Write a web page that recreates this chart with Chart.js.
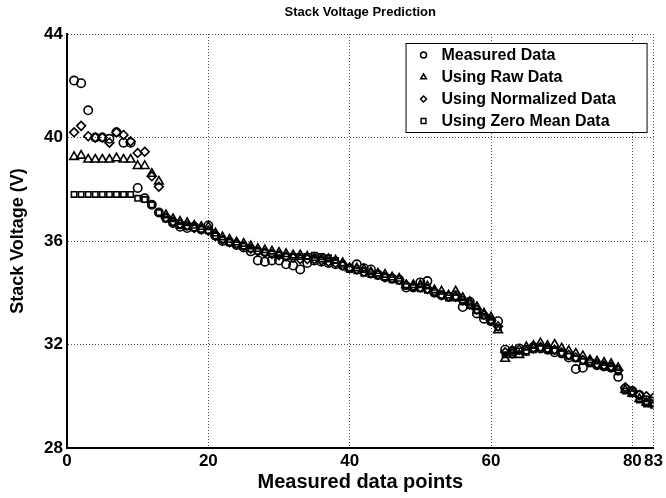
<!DOCTYPE html>
<html>
<head>
<meta charset="utf-8">
<title>Stack Voltage Prediction</title>
<script src="https://cdn.jsdelivr.net/npm/chart.js@4/dist/chart.umd.min.js"></script>
<style>
    body { margin: 0; background: #fff; }
    #wrap { width: 666px; height: 498px; position: relative; }
</style>
</head>
<body>
<div id="wrap"><canvas id="chart"></canvas></div>
<script>
// Measured data point index (x axis)
const points = [1, 2, 3, 4, 5, 6, 7, 8, 9, 10, 11, 12, 13, 14, 15, 16, 17, 18, 19, 20,
    21, 22, 23, 24, 25, 26, 27, 28, 29, 30, 31, 32, 33, 34, 35, 36, 37, 38, 39, 40,
    41, 42, 43, 44, 45, 46, 47, 48, 49, 50, 51, 52, 53, 54, 55, 56, 57, 58, 59, 60,
    61, 62, 63, 64, 65, 66, 67, 68, 69, 70, 71, 72, 73, 74, 75, 76, 77, 78, 79, 80,
    81, 82, 83];

// Stack voltage (V) per series
const measured = [42.2, 42.1, 41.05, 40.0, 40.0, 39.95, 40.2, 39.8, 39.8, 38.05,
    37.65, 37.4, 37.1, 36.9, 36.7, 36.55, 36.5, 36.55, 36.45, 36.6,
    36.2, 36.0, 35.95, 35.85, 35.75, 35.6, 35.25, 35.2, 35.25, 35.25,
    35.1, 35.05, 34.9, 35.15, 35.25, 35.2, 35.15, 35.1, 35.05, 34.95,
    35.1, 34.95, 34.9, 34.7, 34.6, 34.55, 34.5, 34.2, 34.2, 34.4,
    34.45, 34.0, 33.9, 33.85, 33.9, 33.45, 33.65, 33.2, 33.0, 32.9,
    32.9, 31.8, 31.75, 31.85, 31.8, 31.9, 31.85, 31.8, 31.7, 31.65,
    31.5, 31.05, 31.1, 31.3, 31.2, 31.15, 31.1, 30.75, 30.3, 30.2,
    30.05, 29.85, 29.8];

const rawData = [39.25, 39.3, 39.15, 39.15, 39.15, 39.15, 39.2, 39.15, 39.15, 38.9,
    38.9, 38.6, 38.3, 37.0, 36.85, 36.75, 36.7, 36.6, 36.55, 36.55,
    36.3, 36.15, 36.05, 35.95, 35.9, 35.8, 35.7, 35.65, 35.6, 35.55,
    35.5, 35.45, 35.45, 35.4, 35.35, 35.3, 35.3, 35.25, 35.15, 34.95,
    34.95, 34.9, 34.8, 34.75, 34.7, 34.6, 34.55, 34.3, 34.3, 34.3,
    34.25, 34.1, 34.05, 33.9, 34.05, 33.8, 33.65, 33.45, 33.2, 33.05,
    32.55, 31.45, 31.75, 31.6, 31.9, 31.95, 32.05, 31.95, 32.0, 31.85,
    31.75, 31.65, 31.55, 31.4, 31.35, 31.3, 31.25, 31.1, 30.25, 30.1,
    29.9, 29.75, 29.7];

const normalized = [40.2, 40.45, 40.05, 40.0, 40.0, 39.8, 40.2, 40.1, 39.85, 39.4,
    39.45, 38.5, 38.1, 36.9, 36.75, 36.65, 36.6, 36.5, 36.45, 36.4,
    36.2, 36.05, 35.95, 35.9, 35.8, 35.7, 35.6, 35.55, 35.5, 35.45,
    35.4, 35.35, 35.3, 35.3, 35.3, 35.25, 35.2, 35.15, 35.05, 34.95,
    34.9, 34.8, 34.75, 34.7, 34.6, 34.55, 34.5, 34.3, 34.25, 34.2,
    34.15, 34.05, 33.9, 33.85, 33.85, 33.7, 33.55, 33.35, 33.15, 32.95,
    32.7, 31.7, 31.65, 31.8, 31.75, 31.85, 31.9, 31.85, 31.8, 31.7,
    31.6, 31.5, 31.4, 31.35, 31.25, 31.2, 31.15, 31.0, 30.35, 30.2,
    30.05, 30.0, 29.95];

const zeroMean = [37.8, 37.8, 37.8, 37.8, 37.8, 37.8, 37.8, 37.8, 37.8, 37.65,
    37.6, 37.4, 37.1, 36.85, 36.7, 36.6, 36.55, 36.5, 36.45, 36.4,
    36.2, 36.05, 35.95, 35.85, 35.8, 35.7, 35.6, 35.55, 35.5, 35.45,
    35.4, 35.4, 35.4, 35.4, 35.45, 35.4, 35.35, 35.25, 35.1, 34.9,
    34.85, 34.75, 34.7, 34.65, 34.6, 34.5, 34.45, 34.25, 34.2, 34.15,
    34.1, 34.0, 33.9, 33.8, 33.8, 33.65, 33.5, 33.3, 33.1, 32.9,
    32.65, 31.6, 31.6, 31.75, 31.7, 31.8, 31.85, 31.8, 31.75, 31.65,
    31.55, 31.45, 31.35, 31.3, 31.2, 31.15, 31.1, 30.95, 30.2, 30.1,
    29.85, 29.7, 29.65];

const seriesNames = ['Measured Data', 'Using Raw Data', 'Using Normalized Data', 'Using Zero Mean Data'];
const xTicks = [0, 20, 40, 60, 80, 83];
const yTicks = [28, 32, 36, 40, 44];

const FONT = "'Liberation Sans', Arial, Helvetica, sans-serif";

// marker style per series
const markers = [
    { style: 'circle', radius: 4.2 },
    { style: 'triangle', radius: 5 },
    { style: 'rectRot', radius: 4.4 },
    { style: 'rect', radius: 3.8 }
];

function toPoints(values) {
    return values.map((v, i) => ({ x: points[i], y: v }));
}

const datasets = [measured, rawData, normalized, zeroMean].map((vals, i) => ({
    label: seriesNames[i],
    data: toPoints(vals),
    showLine: false,
    pointStyle: markers[i].style,
    pointRadius: markers[i].radius,
    pointBorderWidth: 1.6,
    borderColor: '#000',
    backgroundColor: 'rgba(0,0,0,0)'
}));

// small marker drawing for the boxed legend
function drawMarker(ctx, style, x, y, r) {
    ctx.beginPath();
    if (style === 'circle') {
        ctx.arc(x, y, r, 0, Math.PI * 2);
    } else if (style === 'triangle') {
        ctx.moveTo(x, y - r);
        ctx.lineTo(x + r * 0.95, y + r * 0.6);
        ctx.lineTo(x - r * 0.95, y + r * 0.6);
        ctx.closePath();
    } else if (style === 'rectRot') {
        ctx.moveTo(x, y - r);
        ctx.lineTo(x + r, y);
        ctx.lineTo(x, y + r);
        ctx.lineTo(x - r, y);
        ctx.closePath();
    } else {
        ctx.rect(x - r * 0.8, y - r * 0.8, r * 1.6, r * 1.6);
    }
    ctx.stroke();
}

// title over the plot area + legend box in the upper right corner
const decorPlugin = {
    id: 'decor',
    afterDraw(chart) {
        const ctx = chart.ctx;
        const area = chart.chartArea;
        ctx.save();

        ctx.fillStyle = '#000';
        ctx.font = 'bold 13px ' + FONT;
        ctx.textAlign = 'center';
        ctx.textBaseline = 'middle';
        ctx.fillText('Stack Voltage Prediction', (area.left + area.right) / 2, 12);

        const boxRight = area.right - 7;
        const boxLeft = boxRight - 241;
        const boxTop = area.top + 9;
        const boxH = 89;
        ctx.fillStyle = '#fff';
        ctx.fillRect(boxLeft, boxTop, boxRight - boxLeft, boxH);
        ctx.strokeStyle = '#000';
        ctx.lineWidth = 1;
        ctx.strokeRect(boxLeft + 0.5, boxTop + 0.5, boxRight - boxLeft, boxH);

        ctx.font = 'bold 16px ' + FONT;
        ctx.textAlign = 'left';
        seriesNames.forEach((name, i) => {
            const y = boxTop + 12 + i * 22;
            ctx.strokeStyle = '#000';
            ctx.lineWidth = 1.5;
            drawMarker(ctx, markers[i].style, boxLeft + 18, y, 3);
            ctx.fillStyle = '#000';
            ctx.fillText(name, boxLeft + 36, y + 1);
        });
        ctx.restore();
    }
};

const gridStyle = {
    color: '#555',
    lineWidth: 1,
    drawTicks: false
};

new Chart(document.getElementById('chart'), {
    type: 'scatter',
    data: { datasets: datasets },
    plugins: [decorPlugin],
    options: {
        responsive: true,
        maintainAspectRatio: false,
        animation: false,
        layout: { padding: { top: 34, right: 11, left: 0, bottom: 0 } },
        plugins: {
            legend: { display: false },
            title: { display: false },
            tooltip: { enabled: false }
        },
        scales: {
            x: {
                type: 'linear',
                min: 0,
                max: 83,
                afterBuildTicks: scale => { scale.ticks = xTicks.map(v => ({ value: v })); },
                afterFit: scale => { scale.height = 50; },
                grid: gridStyle,
                border: { display: true, color: '#000', width: 2, dash: [1, 2] },
                ticks: {
                    autoSkip: false,
                    maxRotation: 0,
                    padding: 3,
                    color: '#000',
                    font: { family: FONT, size: 17, weight: 'bold' }
                },
                title: {
                    display: true,
                    text: 'Measured data points',
                    color: '#000',
                    font: { family: FONT, size: 20, weight: 'bold' },
                    padding: { top: 0, bottom: 4 }
                }
            },
            y: {
                min: 28,
                max: 44,
                afterBuildTicks: scale => { scale.ticks = yTicks.map(v => ({ value: v })); },
                afterFit: scale => { scale.width = 67; },
                grid: gridStyle,
                border: { display: true, color: '#000', width: 2, dash: [1, 2] },
                ticks: {
                    padding: 4,
                    color: '#000',
                    font: { family: FONT, size: 17, weight: 'bold' }
                },
                title: {
                    display: true,
                    text: 'Stack Voltage (V)',
                    color: '#000',
                    font: { family: FONT, size: 18, weight: 'bold' },
                    padding: { top: 7, bottom: 0 }
                }
            }
        }
    }
});
</script>
</body>
</html>
